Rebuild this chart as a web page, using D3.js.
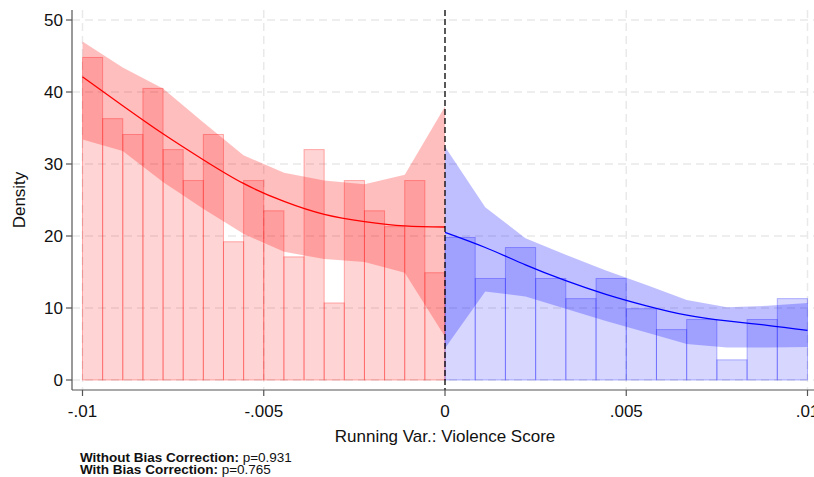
<!DOCTYPE html>
<html>
<head>
<meta charset="utf-8">
<script src="https://cdn.jsdelivr.net/npm/d3@7"></script>
<style>
  html, body { margin: 0; padding: 0; background: #fff; }
  svg { display: block; font-family: "Liberation Sans", Arial, Helvetica, sans-serif; }
</style>
</head>
<body>
<svg id="chart" width="814" height="477"></svg>
<script>
// ---- data ----
const leftDensity  = [44.8, 36.3, 34.1, 40.5, 32.0, 27.7, 34.1, 19.2, 27.7, 23.5, 17.1, 32.0, 10.7, 27.7, 23.5, 21.3, 27.7, 14.9];
const rightDensity = [19.8, 14.1, 18.4, 14.1, 11.3, 14.1, 9.9, 7.0, 8.4, 2.8, 8.4, 11.3];

const leftGrid  = [-0.01, -0.00889, -0.00778, -0.00667, -0.00556, -0.00444, -0.00333, -0.00222, -0.00111, 0];
const leftFit   = [42.1, 38.1, 34.2, 30.6, 27.3, 24.8, 23.0, 22.0, 21.4, 21.25];
const leftUpper = [47.0, 43.4, 40.5, 35.8, 31.2, 28.8, 27.7, 27.2, 28.5, 38.0];
const leftLower = [33.4, 31.8, 27.5, 23.8, 20.3, 17.8, 16.8, 16.4, 14.9, 6.0];

const rightGrid  = [0, 0.00111, 0.00222, 0.00333, 0.00444, 0.00556, 0.00667, 0.00778, 0.00889, 0.01];
const rightFit   = [20.5, 18.4, 16.0, 13.8, 11.9, 10.3, 9.0, 8.2, 7.6, 6.9];
const rightUpper = [32.4, 24.0, 19.7, 17.4, 15.2, 13.2, 11.1, 10.1, 10.3, 10.7];
const rightLower = [4.4, 12.3, 11.6, 9.9, 8.2, 6.6, 5.0, 4.5, 4.5, 4.6];

const xTicks = [-0.01, -0.005, 0, 0.005, 0.01];
const xTickLabels = ["-.01", "-.005", "0", ".005", ".01"];
const yTicks = [0, 10, 20, 30, 40, 50];
const xTitle = "Running Var.: Violence Score";
const yTitle = "Density";
const notes = [["Without Bias Correction:", " p=0.931"], ["With Bias Correction:", " p=0.765"]];

// ---- layout ----
const svg = d3.select("#chart");
const axisX = 72, axisY = 390, plotTop = 10, rightEdge = 814;
const x = d3.scaleLinear().domain([-0.01, 0.01]).range([82.5, 807.5]);
const y = d3.scaleLinear().domain([0, 50]).range([380, 20]);

// gridlines
const grid = svg.append("g");
grid.selectAll("line.h").data(yTicks).join("line")
  .attr("x1", axisX).attr("x2", rightEdge)
  .attr("y1", d => y(d)).attr("y2", d => y(d))
  .attr("stroke", "#e9e9e9").attr("stroke-width", 1.5).attr("stroke-dasharray", "8,5");
grid.selectAll("line.v").data(xTicks.filter(d => d !== 0)).join("line")
  .attr("x1", d => x(d)).attr("x2", d => x(d))
  .attr("y1", plotTop).attr("y2", axisY)
  .attr("stroke", "#e9e9e9").attr("stroke-width", 1.5).attr("stroke-dasharray", "8,5");

// histograms
const wL = 0.01 / leftDensity.length, wR = 0.01 / rightDensity.length;
svg.append("g").selectAll("rect").data(leftDensity).join("rect")
  .attr("x", (d, i) => x(-0.01 + i * wL)).attr("width", (d, i) => x(-0.01 + (i + 1) * wL) - x(-0.01 + i * wL))
  .attr("y", d => y(d)).attr("height", d => y(0) - y(d))
  .attr("fill", "rgba(255,0,0,0.17)").attr("stroke", "rgba(255,0,0,0.3)").attr("stroke-width", 1);
svg.append("g").selectAll("rect").data(rightDensity).join("rect")
  .attr("x", (d, i) => x(i * wR)).attr("width", (d, i) => x((i + 1) * wR) - x(i * wR))
  .attr("y", d => y(d)).attr("height", d => y(0) - y(d))
  .attr("fill", "rgba(0,0,255,0.16)").attr("stroke", "rgba(0,0,255,0.28)").attr("stroke-width", 1);

// bands
const area = d3.area().x(d => x(d.x)).y0(d => y(d.lo)).y1(d => y(d.hi));
const bandL = leftGrid.map((g, i) => ({x: g, lo: leftLower[i], hi: leftUpper[i]}));
const bandR = rightGrid.map((g, i) => ({x: g, lo: rightLower[i], hi: rightUpper[i]}));
svg.append("path").attr("d", area(bandL)).attr("fill", "rgba(255,0,0,0.255)");
svg.append("path").attr("d", area(bandR)).attr("fill", "rgba(0,0,255,0.25)");

// fit lines
const line = d3.line().x(d => x(d[0])).y(d => y(d[1])).curve(d3.curveNatural);
svg.append("path").attr("d", line(leftGrid.map((g, i) => [g, leftFit[i]])))
  .attr("fill", "none").attr("stroke", "#ff0000").attr("stroke-width", 1.3);
svg.append("path").attr("d", line(rightGrid.map((g, i) => [g, rightFit[i]])))
  .attr("fill", "none").attr("stroke", "#0000ff").attr("stroke-width", 1.3);

// cutoff
svg.append("line").attr("x1", x(0)).attr("x2", x(0)).attr("y1", plotTop).attr("y2", axisY)
  .attr("stroke", "#000").attr("stroke-width", 1.3).attr("stroke-dasharray", "6,3");

// axes
const axColor = "#555";
svg.append("line").attr("x1", axisX).attr("x2", axisX).attr("y1", plotTop).attr("y2", axisY)
  .attr("stroke", axColor).attr("stroke-width", 1.2);
svg.append("line").attr("x1", axisX).attr("x2", rightEdge).attr("y1", axisY).attr("y2", axisY)
  .attr("stroke", axColor).attr("stroke-width", 1.2);

const yt = svg.append("g");
yt.selectAll("line").data(yTicks).join("line")
  .attr("x1", axisX - 6).attr("x2", axisX).attr("y1", d => y(d)).attr("y2", d => y(d))
  .attr("stroke", axColor).attr("stroke-width", 1.2);
yt.selectAll("text").data(yTicks).join("text")
  .attr("x", axisX - 9).attr("y", d => y(d)).attr("dy", "0.35em")
  .attr("text-anchor", "end").attr("font-size", 17).attr("fill", "#111").text(d => d);

const xt = svg.append("g");
xt.selectAll("line").data(xTicks).join("line")
  .attr("x1", d => x(d)).attr("x2", d => x(d)).attr("y1", axisY).attr("y2", axisY + 6)
  .attr("stroke", axColor).attr("stroke-width", 1.2);
xt.selectAll("text").data(xTicks).join("text")
  .attr("x", d => x(d)).attr("y", 417)
  .attr("text-anchor", "middle").attr("font-size", 17).attr("fill", "#111")
  .text((d, i) => xTickLabels[i]);

svg.append("text").attr("x", x(0)).attr("y", 442).attr("text-anchor", "middle")
  .attr("font-size", 17).attr("fill", "#111").text(xTitle);
svg.append("text").attr("transform", "translate(25,200) rotate(-90)").attr("text-anchor", "middle")
  .attr("font-size", 17).attr("fill", "#111").text(yTitle);

const nt = svg.append("g");
notes.forEach((n, i) => {
  const t = nt.append("text").attr("x", 80).attr("y", 462 + i * 12).attr("font-size", 13.5).attr("fill", "#111");
  t.append("tspan").attr("font-weight", "bold").text(n[0]);
  t.append("tspan").text(n[1]);
});
</script>
</body>
</html>
